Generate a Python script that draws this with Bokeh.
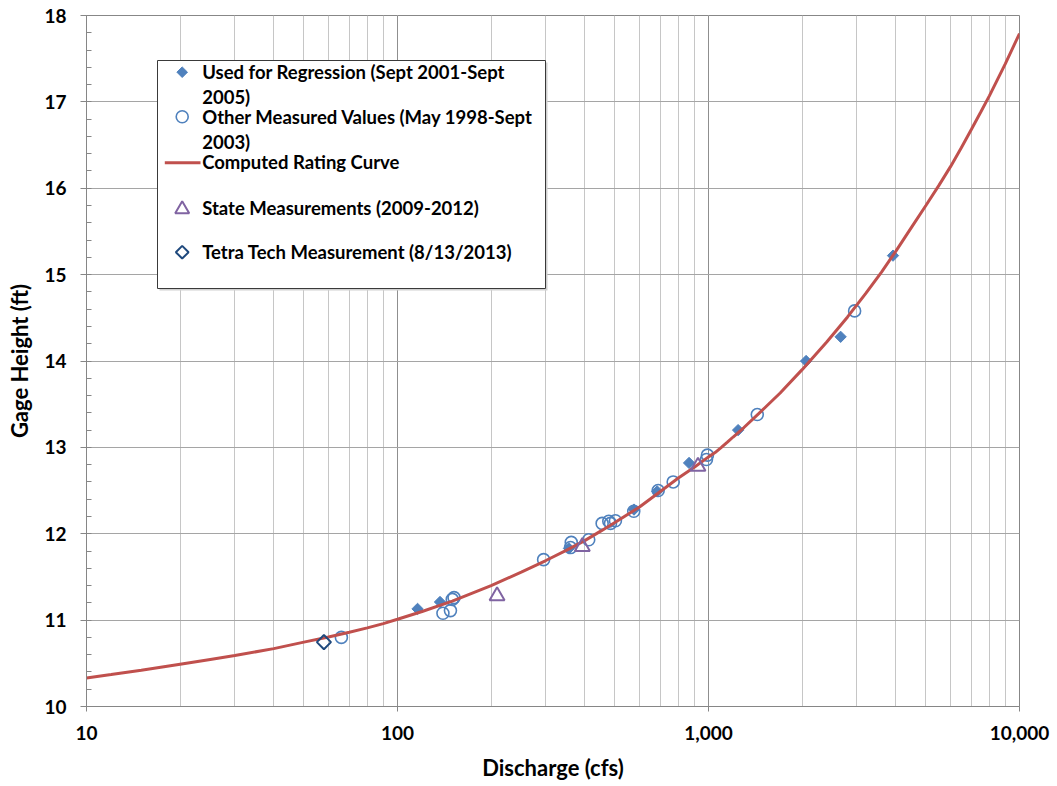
import math
from bokeh.plotting import figure
from bokeh.models import (Range1d, LinearScale, NumeralTickFormatter, LogTicker,
                          SingleIntervalTicker)
from bokeh.core.properties import value
from bokeh.embed import file_html
from bokeh.resources import INLINE

# --- measurements -------------------------------------------------------
regression_q = [116, 137, 356, 576, 684, 866, 1245, 2060, 2660, 3920]
regression_h = [11.13, 11.21, 11.83, 12.28, 12.49, 12.82, 13.20, 14.00, 14.28, 15.22]

other_q = [66, 140, 148, 150, 152, 295, 360, 362, 412, 455, 478, 484, 502,
           575, 689, 770, 985, 992, 1435, 2950]
other_h = [10.80, 11.08, 11.11, 11.24, 11.26, 11.70, 11.84, 11.90, 11.93, 12.12,
           12.145, 12.12, 12.15, 12.26, 12.50, 12.60, 12.86, 12.91, 13.38, 14.58]

state_q = [209, 393, 925]
state_h = [11.28, 11.85, 12.78]

tetra_q = [58]
tetra_h = [10.745]

# computed rating curve (discharge, gage height)
rating_q = [10, 12, 15, 20, 25, 30, 40, 50, 60, 70, 80, 90, 100, 120, 150, 200,
            250, 300, 350, 400, 450, 500, 600, 700, 800, 900, 1000, 1050, 1100,
            1150, 1200, 1300, 1450, 1700, 2000, 2400, 2800, 3200, 3600, 4000,
            4500, 5000, 5500, 6000, 6500, 7000, 7500, 8000, 9000, 10000]
rating_h = [10.33, 10.37, 10.42, 10.49, 10.545, 10.59, 10.67, 10.745, 10.805,
            10.86, 10.91, 10.96, 11.01, 11.10, 11.22, 11.40, 11.555, 11.69, 11.81,
            11.92, 12.03, 12.13, 12.31, 12.49, 12.645, 12.77, 12.89, 12.94, 13.00,
            13.06, 13.12, 13.23, 13.39, 13.63, 13.90, 14.22, 14.51, 14.78, 15.03,
            15.27, 15.55, 15.80, 16.03, 16.25, 16.47, 16.68, 16.88, 17.07, 17.44,
            17.79]

legend_labels = [
    ["Used for Regression (Sept 2001-Sept", "2005)"],
    ["Other Measured Values (May 1998-Sept", "2003)"],
    ["Computed Rating Curve"],
    ["State Measurements (2009-2012)"],
    ["Tetra Tech Measurement (8/13/2013)"],
]

x_title = "Discharge (cfs)"
y_title = "Gage Height (ft)"

BLUE = "#4F81BD"
RED = "#C0504D"
PURPLE = "#8064A2"
NAVY = "#1F497D"
FONT = "Lato"
DIAMOND = math.pi / 4  # squares turned into diamonds

FRAME_W, FRAME_H = 933, 691

p = figure(width=1057, height=786, x_axis_type="log",
           x_range=Range1d(10, 10000), y_range=Range1d(10, 18),
           output_backend="svg", toolbar_location=None,
           min_border_left=86, min_border_right=38,
           min_border_top=15, min_border_bottom=80)
p.background_fill_color = "white"
p.border_fill_color = "white"
p.outline_line_color = "#878787"

# pixel-space ranges for the legend block drawn inside the frame
p.extra_x_ranges = {"px": Range1d(0, FRAME_W)}
p.extra_y_ranges = {"px": Range1d(FRAME_H, 0)}
p.extra_x_scales = {"px": LinearScale()}
p.extra_y_scales = {"px": LinearScale()}

# axes
xa = p.xaxis[0]
xa.ticker = LogTicker(num_minor_ticks=10)
xa.formatter = NumeralTickFormatter(format="0,0")
xa.axis_label = x_title
ya = p.yaxis[0]
ya.ticker = SingleIntervalTicker(interval=1, num_minor_ticks=5)
ya.axis_label = y_title

for ax in (xa, ya):
    ax.axis_line_color = "#868686"
    ax.major_tick_line_color = "#868686"
    ax.minor_tick_line_color = "#868686"
    ax.major_label_text_font = FONT
    ax.major_label_text_font_style = "bold"
    ax.major_label_text_font_size = "19px"
    ax.major_label_text_color = "black"
    ax.axis_label_text_font = FONT
    ax.axis_label_text_font_style = "bold"
    ax.axis_label_text_font_size = "22px"
    ax.axis_label_text_color = "black"

xa.major_tick_out = 5
xa.major_tick_in = 0
xa.minor_tick_out = 0
xa.minor_tick_in = 0
xa.major_label_standoff = 14
xa.axis_label_standoff = 11

ya.major_tick_out = 6
ya.major_tick_in = 0
ya.minor_tick_in = 5
ya.minor_tick_out = 0
ya.major_label_standoff = 14
ya.axis_label_standoff = 8

# grid
p.xgrid.grid_line_color = "#8f8f8f"
p.xgrid.minor_grid_line_color = "#c6c6c6"
p.ygrid.grid_line_color = "#a5a5a5"

# series
p.scatter(regression_q, regression_h, marker="square", size=8, angle=DIAMOND,
          fill_color=BLUE, line_color=BLUE, line_width=1)
p.scatter(other_q, other_h, marker="circle", size=12,
          fill_color=None, line_color=BLUE, line_width=1.6)
p.line(rating_q, rating_h, line_color=RED, line_width=3)
p.scatter(state_q, state_h, marker="triangle", size=15,
          fill_color=None, line_color=PURPLE, line_width=2)
p.scatter(tetra_q, tetra_h, marker="square", size=10, angle=DIAMOND,
          fill_color=None, line_color=NAVY, line_width=2)

# legend block (frame pixel coordinates, y downward)
box_l, box_r, box_t, box_b = 71, 459, 45, 273
p.quad(left=[box_l + 2], right=[box_r + 2], top=[box_t + 2], bottom=[box_b + 2],
       fill_color="#d0d0d0", line_color=None,
       x_range_name="px", y_range_name="px")
p.quad(left=[box_l], right=[box_r], top=[box_t], bottom=[box_b],
       fill_color="white", line_color="#3a3a3a", line_width=1,
       x_range_name="px", y_range_name="px")

mark_x = 95.7
text_x = 115.7
row_y = [56.7, 101.7, 146.7, 192.3, 236.7]
line_gap = 24.5

p.scatter([mark_x], [row_y[0]], marker="square", size=7.5, angle=DIAMOND,
          fill_color=BLUE, line_color=BLUE, x_range_name="px", y_range_name="px")
p.scatter([mark_x], [row_y[1] - 0.5], marker="circle", size=12, fill_color=None,
          line_color=BLUE, line_width=1.6, x_range_name="px", y_range_name="px")
p.line([78.3, 114], [row_y[2] + 0.6, row_y[2] + 0.6], line_color=RED, line_width=3,
       x_range_name="px", y_range_name="px")
p.scatter([mark_x], [row_y[3] + 1.5], marker="triangle", size=14, fill_color=None,
          line_color=PURPLE, line_width=2, x_range_name="px", y_range_name="px")
p.scatter([mark_x], [row_y[4]], marker="square", size=9, angle=DIAMOND,
          fill_color=None, line_color=NAVY, line_width=2,
          x_range_name="px", y_range_name="px")

tx, ty, tt = [], [], []
for y0, lines in zip(row_y, legend_labels):
    for i, s in enumerate(lines):
        tx.append(text_x)
        ty.append(y0 + i * line_gap)
        tt.append(s)
p.text(tx, ty, text=tt, text_font=value(FONT), text_font_style="bold",
       text_font_size="18.5px", text_color="black", text_baseline="middle",
       text_align="left", x_range_name="px", y_range_name="px")

open("out.html", "w").write(file_html(p, INLINE))
